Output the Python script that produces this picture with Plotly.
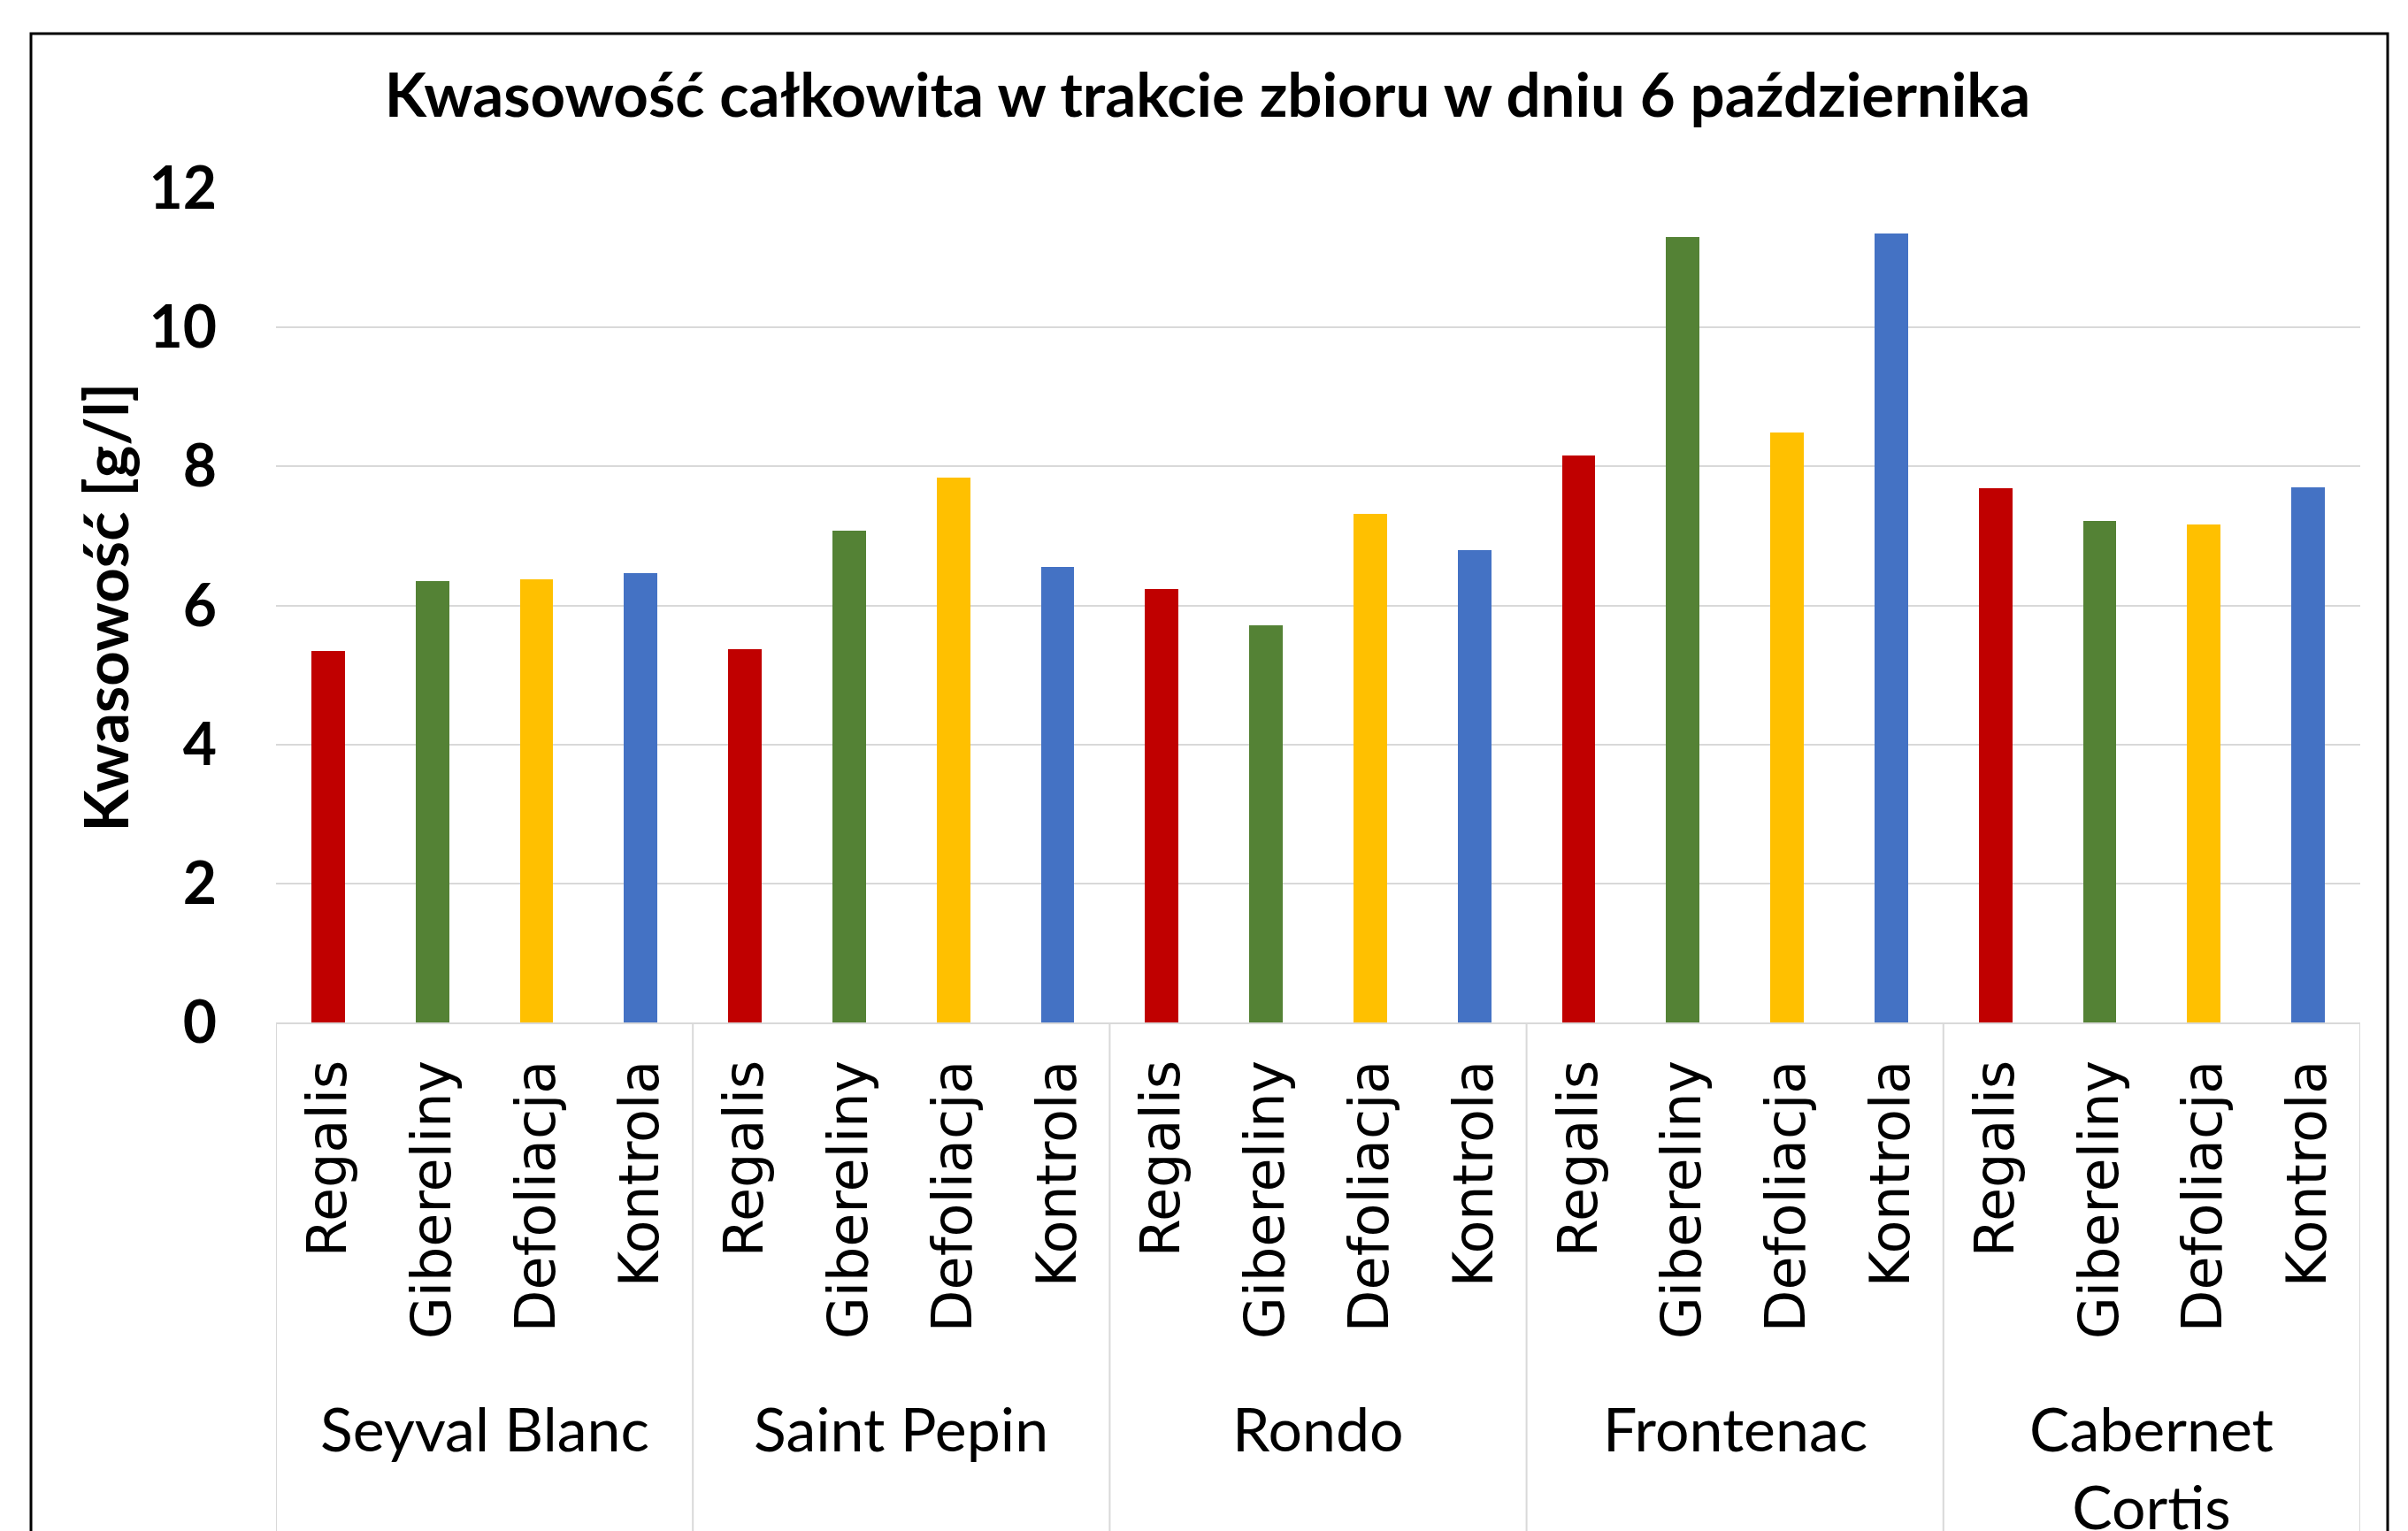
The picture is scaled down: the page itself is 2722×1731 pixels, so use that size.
import plotly.graph_objects as go

# ---- data ----
groups = ["Seyval Blanc", "Saint Pepin", "Rondo", "Frontenac", "Cabernet Cortis"]
group_labels = ["Seyval Blanc", "Saint Pepin", "Rondo", "Frontenac", "Cabernet<br>Cortis"]
treatments = ["Regalis", "Gibereliny", "Defoliacja", "Kontrola"]
regalis = [5.35, 5.37, 6.24, 8.16, 7.68]
gibereliny = [6.35, 7.08, 5.72, 11.30, 7.22]
defoliacja = [6.38, 7.84, 7.32, 8.49, 7.17]
kontrola = [6.47, 6.55, 6.79, 11.35, 7.70]
y_ticks = [0, 2, 4, 6, 8, 10, 12]

series = [regalis, gibereliny, defoliacja, kontrola]
colors = ["#C00000", "#548235", "#FFC000", "#4472C4"]

title_text = "Kwasowość całkowita w trakcie zbioru w dniu 6 października"
y_title = "Kwasowość [g/l]"

OFF = 8  # page body margin
W, H = 2722 - OFF, 1731 - OFF
L, T = 312 - OFF, 213 - OFF
plot_w = 2668 - 312
plot_h = 1156 - 213
R = W - L - plot_w
B = H - T - plot_h

n_t = len(treatments)
n_g = len(groups)

fig = go.Figure()
for ti, (name, vals, col) in enumerate(zip(treatments, series, colors)):
    xs = [g * n_t + ti for g in range(n_g)]
    fig.add_trace(go.Bar(x=xs, y=vals, name=name, marker=dict(color=col, line=dict(width=0)),
                         width=0.32, showlegend=False))

tickvals = list(range(n_g * n_t))
ticktext = [treatments[i % n_t] for i in tickvals]

fig.update_layout(
    width=W, height=H, autosize=False,
    margin=dict(l=L, r=R, t=T, b=B, pad=0),
    paper_bgcolor="white", plot_bgcolor="white",
    title=dict(text="<b>" + title_text + "</b>", x=(1365 - OFF) / W, xanchor="center",
               y=1 - (108 - OFF) / H, yanchor="middle",
               font=dict(family="Lato", size=69, color="black")),
    xaxis=dict(range=[-0.5, n_g * n_t - 0.5], tickmode="array", tickvals=tickvals, ticktext=ticktext,
               tickangle=-90, tickfont=dict(family="DejaVu Sans", size=62, color="black"),
               showgrid=False, zeroline=False, showline=True, linecolor="#D9D9D9", linewidth=2,
               ticks="", ticklabelstandoff=16),
    yaxis=dict(range=[0, 12], tickmode="array", tickvals=y_ticks,
               tickfont=dict(family="Lato", size=66, color="black", weight="bold"),
               showgrid=True, gridcolor="#D9D9D9", gridwidth=2, zeroline=False, showline=False,
               ticks="", ticklabelstandoff=66),
    bargap=0,
)

# chart border (cropped at bottom)
x0p = (35 - 312) / plot_w
x1p = (2699 - 312) / plot_w
ytop = (1156 - 38) / plot_h
fig.add_shape(type="rect", xref="paper", yref="paper", x0=x0p, x1=x1p, y0=-1.0, y1=ytop,
              line=dict(color="black", width=3), fillcolor="rgba(0,0,0,0)", layer="below")

# group dividers
for g in range(n_g + 1):
    xv = g * n_t - 0.5
    fig.add_shape(type="line", xref="x", yref="paper", x0=xv, x1=xv, y0=0, y1=-1.0,
                  line=dict(color="#D9D9D9", width=2))

# group labels
for g, lab in enumerate(group_labels):
    fig.add_annotation(x=g * n_t + (n_t - 1) / 2, xref="x", y=-0.441, yref="paper",
                       text=lab, showarrow=False, xanchor="center", yanchor="top",
                       font=dict(family="Lato", size=68, color="black"))

# y-axis title
fig.add_annotation(x=(118 - 312) / plot_w, xref="paper", y=0.498, yref="paper",
                   text="<b>" + y_title + "</b>", textangle=-90, showarrow=False,
                   xanchor="center", yanchor="middle",
                   font=dict(family="Lato", size=69, color="black"))

fig.write_html("out.html")
